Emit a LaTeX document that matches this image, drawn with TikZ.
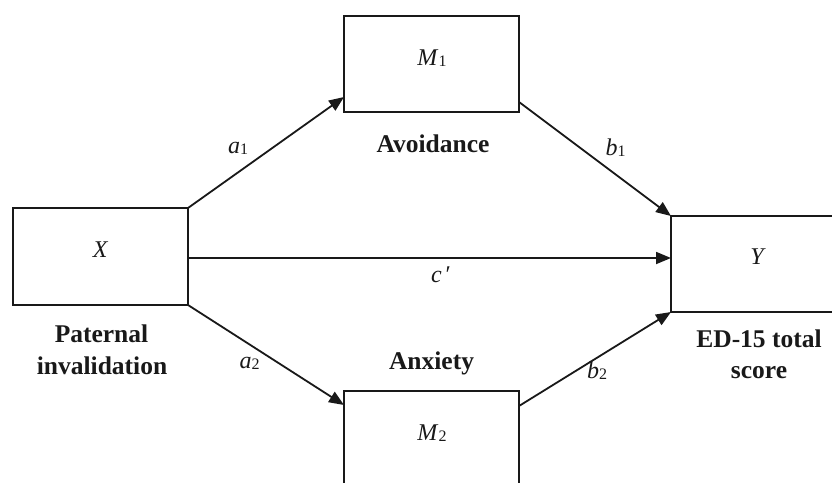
\documentclass[tikz,border=0pt]{standalone}
\usepackage{fontspec}
\setmainfont{Liberation Serif}
\usetikzlibrary{arrows.meta,calc}
\newcommand{\sbs}[1]{{\fontsize{16}{16}\selectfont\raisebox{-1.5pt}{#1}}}
\tikzset{
  box/.style={draw=black!90, line width=1.4pt, inner sep=0pt, outer sep=0pt},
  lab/.style={font=\fontsize{25.5}{30}\selectfont\bfseries, text=black!90, anchor=base, inner sep=0pt},
  var/.style={font=\fontsize{24}{24}\selectfont, text=black!90, anchor=base, inner sep=0pt},
  arr/.style={draw=black!90, line width=1.8pt, -{Triangle[length=15pt,width=12pt]}}
}
\begin{document}
\begin{tikzpicture}[x=1pt,y=-1pt]
\useasboundingbox (0,0) rectangle (832,482);
\clip (0,0) rectangle (832,482);
\fill[white] (0,0) rectangle (832,482);
% boxes
\node[box, minimum width=175pt, minimum height=97pt] (X) at (100.5,256.5) {};
\node[box, minimum width=175pt, minimum height=96pt] (M1) at (431.5,64) {};
\node[box, minimum width=175pt, minimum height=96pt] (M2) at (431.5,439) {};
\node[box, minimum width=175pt, minimum height=96pt] (Y) at (758.5,264) {};
% box texts
\node[var] (xt) at (100.5,257) {\textit{X}};
\node[var] (yt) at (758,264) {\textit{Y}};
\node[var] (m1t) at (432,65) {\textit{M}\sbs{1}};
\node[var] (m2t) at (432,440) {\textit{M}\sbs{2}};
% labels
\node[lab] (xl1) at (101.5,342) {Paternal};
\node[lab] (xl2) at (102,374) {invalidation};
\node[lab] (yl1) at (759,347) {ED-15 total};
\node[lab] (yl2) at (759,378) {score};
\node[lab] (ml1) at (433,152) {Avoidance};
\node[lab] (ml2) at (431.5,369) {Anxiety};
% connectors
\coordinate (m1in) at ($(M1.south west)+(0,-15)$);
\coordinate (m1out) at ($(M1.south east)+(0,-10)$);
\coordinate (m2in) at ($(M2.north west)+(0,14)$);
\coordinate (m2out) at ($(M2.north east)+(0,15)$);
\coordinate (cst) at ($(X.east)+(0,1.5)$);
\draw[arr] (X.north east) -- (m1in);
\draw[arr] (m1out) -- (Y.north west);
\draw[arr] (cst) -- (cst -| Y.west);
\draw[arr] (X.south east) -- (m2in);
\draw[arr] (m2out) -- (Y.south west);
% coefficients
\node[var] (a1) at (238,153) {\textit{a}\sbs{1}};
\node[var] (b1) at (615.5,155) {\textit{b}\sbs{1}};
\node[var] (c) at (441,282) {\textit{c}\,′};
\node[var] (a2) at (249.5,368) {\textit{a}\sbs{2}};
\node[var] (b2) at (597,378) {\textit{b}\sbs{2}};
\end{tikzpicture}
\end{document}
